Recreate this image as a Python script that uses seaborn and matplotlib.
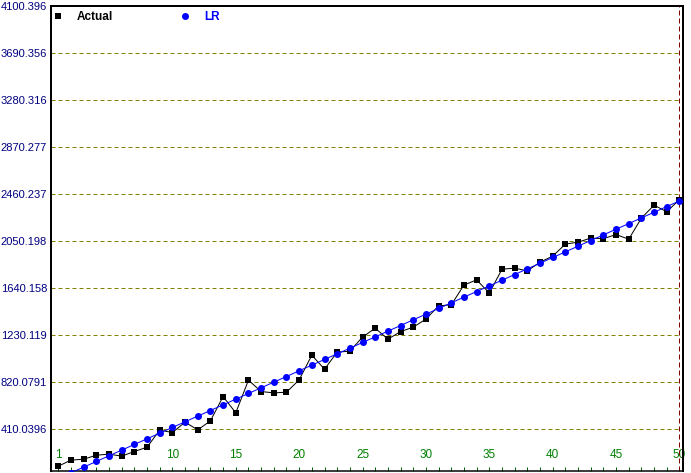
import matplotlib
matplotlib.use("Agg")
import matplotlib.pyplot as plt
import numpy as np
import pandas as pd
import seaborn as sns
from matplotlib.lines import Line2D

# ---------------- data ----------------
periods = list(range(1, 51))
actual = [87, 140, 148, 183, 192, 175, 215, 253, 402, 381,
          471, 404, 483, 695, 553, 838, 739, 727, 733, 841,
          1056, 934, 1083, 1091, 1214, 1292, 1196, 1262, 1301, 1371,
          1487, 1496, 1668, 1714, 1598, 1807, 1816, 1792, 1868, 1921,
          2026, 2043, 2078, 2074, 2109, 2069, 2253, 2366, 2308, 2415]
lr = [-20, 29, 79, 128, 178, 227, 277, 326, 376, 425,
      475, 524, 573, 623, 672, 722, 771, 821, 870, 920,
      969, 1019, 1068, 1117, 1167, 1216, 1266, 1315, 1365, 1414,
      1464, 1513, 1563, 1612, 1661, 1711, 1760, 1810, 1859, 1909,
      1958, 2008, 2057, 2107, 2156, 2205, 2255, 2304, 2354, 2403]
y_ticks = [410.0396, 820.0791, 1230.119, 1640.158, 2050.198,
           2460.237, 2870.277, 3280.316, 3690.356, 4100.396]
y_tick_labels = ["410.0396", "820.0791", "1230.119", "1640.158", "2050.198",
                 "2460.237", "2870.277", "3280.316", "3690.356", "4100.396"]
x_tick_vals = [1, 10, 15, 20, 25, 30, 35, 40, 45, 50]
x_tick_labels = ["1", "10", "15", "20", "25", "30", "35", "40", "45", "50"]
series_names = ["Actual", "LR"]

# ---------------- style ----------------
sns.set_style("white")
plt.rcParams["font.family"] = ["Liberation Sans", "DejaVu Sans"]
PX = 0.72  # points per pixel at dpi 100

W, H = 691, 473
fig = plt.figure(figsize=(W / 100, H / 100), dpi=100)
fig.patch.set_facecolor("white")
ax = fig.add_axes([51 / W, (H - 471) / H, (683 - 51) / W, (471 - 6.5) / H])
ax.set_facecolor("white")

df = pd.DataFrame({"period": periods, "Actual": actual, "LR": lr})

XMIN, XMAX = 0.424, 50.28
YMIN = 45.0

# grid lines (olive dashed), ending at the red marker line
ax.hlines(y_ticks[:-1], XMIN, periods[-1], colors="#808000", lw=PX,
          linestyles=[(0, (4, 3))], zorder=1)
ax.axvline(periods[-1], color="#800000", lw=PX, ls=(0, (5, 3)), zorder=1)

sns.lineplot(data=df, x="period", y="Actual", ax=ax, color="black",
             lw=PX, marker="s", markersize=6 * PX, markeredgewidth=0,
             markeredgecolor="black", errorbar=None, legend=False, zorder=3)
sns.lineplot(data=df, x="period", y="LR", ax=ax, color="#0000ff",
             lw=PX, marker="o", markersize=7 * PX, markeredgewidth=0,
             markeredgecolor="#0000ff", errorbar=None, legend=False, zorder=4)

ax.set_xlim(XMIN, XMAX)
ax.set_ylim(YMIN, y_ticks[-1])
ax.set_xlabel("")
ax.set_ylabel("")

ax.set_yticks(y_ticks)
ax.set_yticklabels(y_tick_labels)
ax.tick_params(axis="y", length=0, pad=4 * PX, labelcolor="#000080",
               labelsize=8)

ax.set_xticks(x_tick_vals)
ax.set_xticklabels(x_tick_labels)
ax.set_xticks(periods, minor=True)
ax.tick_params(axis="x", which="both", direction="in", length=4 * PX,
               width=PX, color="#006400", bottom=True)
ax.tick_params(axis="x", which="major", labelcolor="#008000", labelsize=8.5,
               pad=-22 * PX)

for side, sp in ax.spines.items():
    sp.set_visible(True)
    sp.set_color("black")
    sp.set_linewidth(2 * PX)
ax.spines["bottom"].set_linewidth(1.5 * PX)

handles = [Line2D([], [], marker="s", ls="none", color="black",
                  markersize=6 * PX, markeredgewidth=0),
           Line2D([], [], marker="o", ls="none", color="#0000ff",
                  markersize=7 * PX, markeredgewidth=0)]
leg = ax.legend(handles, series_names, loc="upper left",
                bbox_to_anchor=(-4 / 632, 1.0), ncol=2, frameon=False,
                handlelength=1.0, handletextpad=1.11, columnspacing=5.6,
                borderaxespad=0.0, borderpad=0.42,
                prop={"weight": "bold", "size": 8.5})
leg.get_texts()[0].set_color("black")
leg.get_texts()[1].set_color("#0000ff")

fig.savefig("out.png", dpi=100, facecolor="white")
